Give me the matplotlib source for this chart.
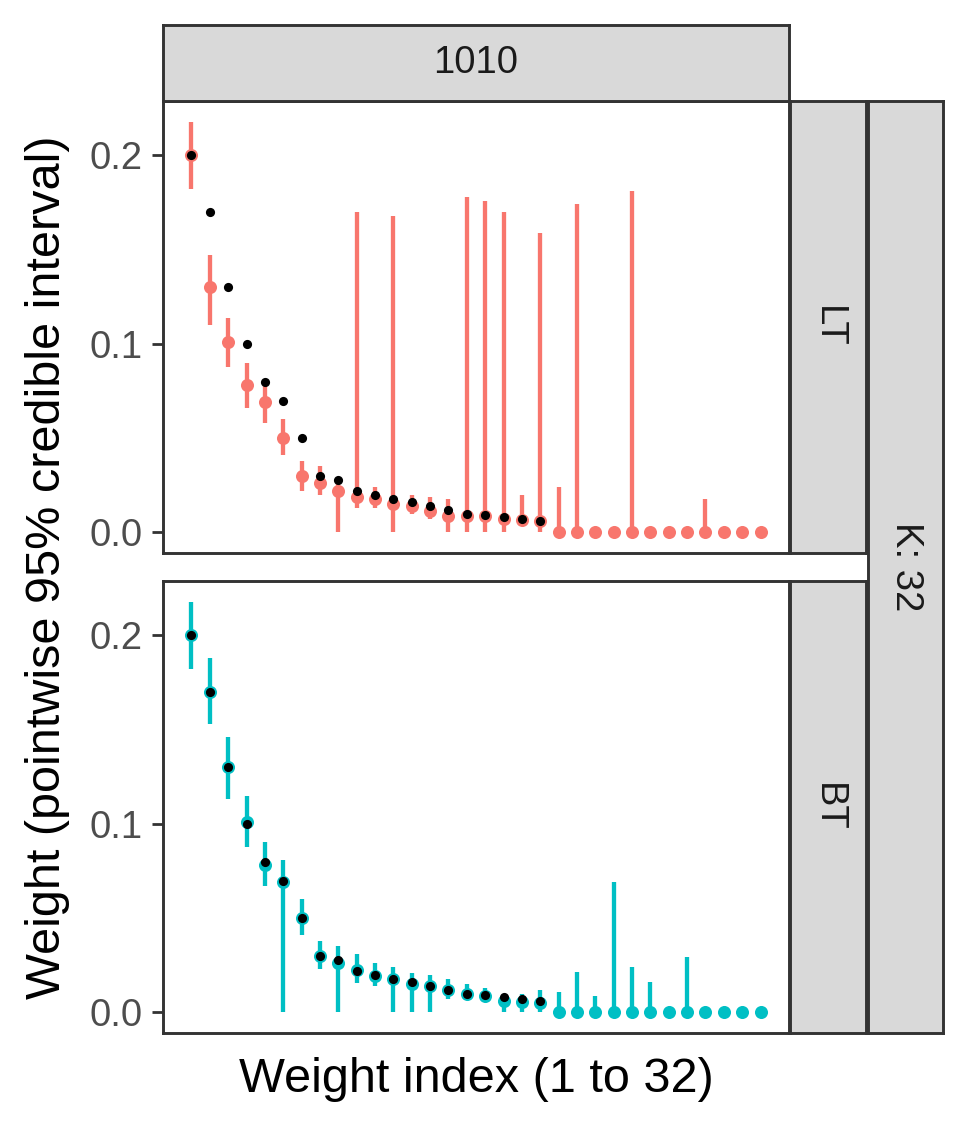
import numpy as np
import matplotlib
matplotlib.use("Agg")
import matplotlib.pyplot as plt

plt.rcParams['font.family'] = ['Liberation Sans', 'DejaVu Sans']

# data
idx = np.arange(1, 33)
true_w = [0.2, 0.17, 0.13, 0.1, 0.08, 0.07, 0.05, 0.03, 0.028, 0.022,
          0.02, 0.018, 0.016, 0.014, 0.012, 0.01, 0.009, 0.008, 0.007, 0.006]

lt_mid = [0.200, 0.130, 0.101, 0.078, 0.069, 0.050, 0.030, 0.026, 0.022, 0.019,
          0.018, 0.015, 0.014, 0.0115, 0.0088, 0.0087, 0.0085, 0.0072, 0.0068, 0.0062,
          0.0005, 0, 0, 0, 0, 0, 0, 0, 0, 0, 0, 0]
lt_lo = [0.182, 0.110, 0.088, 0.066, 0.058, 0.041, 0.022, 0.020, 0.0, 0.013,
         0.013, 0.0, 0.010, 0.007, 0.0, 0.0, 0.0, 0.0, 0.004, 0.0,
         0, 0, 0, 0, 0, 0, 0, 0, 0, 0, 0, 0]
lt_hi = [0.218, 0.147, 0.114, 0.090, 0.078, 0.060, 0.038, 0.035, 0.027, 0.170,
         0.024, 0.168, 0.020, 0.019, 0.018, 0.178, 0.176, 0.170, 0.020, 0.159,
         0.024, 0.174, 0, 0, 0.181, 0, 0, 0, 0.018, 0, 0, 0]

bt_mid = [0.200, 0.170, 0.130, 0.101, 0.078, 0.069, 0.050, 0.030, 0.0265, 0.0224,
          0.0194, 0.0176, 0.0153, 0.0138, 0.0118, 0.0097, 0.0088, 0.0062, 0.0053, 0.005,
          0, 0, 0, 0, 0, 0, 0, 0, 0, 0, 0, 0]
bt_lo = [0.182, 0.153, 0.113, 0.088, 0.067, 0.0, 0.041, 0.023, 0.0, 0.0155,
         0.0138, 0.0, 0.0, 0.0, 0.0074, 0.0064, 0.0053, 0.0, 0.0, 0.0,
         0, 0, 0, 0, 0, 0, 0, 0, 0, 0, 0, 0]
bt_hi = [0.218, 0.188, 0.146, 0.115, 0.0905, 0.081, 0.060, 0.038, 0.035, 0.031,
         0.026, 0.024, 0.021, 0.020, 0.0176, 0.015, 0.0132, 0.0097, 0.010, 0.012,
         0.0106, 0.0212, 0.0085, 0.069, 0.0243, 0.0164, 0, 0.0296, 0, 0, 0, 0]

panels = [("LT", "#F8766D", lt_mid, lt_lo, lt_hi),
          ("BT", "#00BFC4", bt_mid, bt_lo, bt_hi)]

W, H = 969, 1130
fig = plt.figure(figsize=(W / 100, H / 100), dpi=100)


def box(x0, y0, x1, y1):
    # pixel box (top-left origin) -> figure fraction rect
    return [x0 / W, 1 - y1 / H, (x1 - x0) / W, (y1 - y0) / H]


edge = "#333333"
strip_fill = "#D9D9D9"
bw = 2.1
small = 27.5
big = 35


def strip(rect, label, rot):
    s = fig.add_axes(rect)
    s.set_facecolor(strip_fill)
    s.set_xticks([])
    s.set_yticks([])
    for sp in s.spines.values():
        sp.set_color(edge)
        sp.set_linewidth(bw)
    s.text(0.5, 0.5, label, rotation=rot, ha="center", va="center",
           fontsize=small, color="#1A1A1A", transform=s.transAxes)
    return s


ymax = max(max(lt_hi), max(bt_hi))
pad = 0.05 * ymax
ylim = (-pad, ymax + pad)
xlim = (1 - 0.05 * 31, 32 + 0.05 * 31)

rows = [(101, 553), (581, 1033)]
for (name, col, mid, lo, hi), (y0, y1) in zip(panels, rows):
    ax = fig.add_axes(box(163, y0, 789, y1))
    ax.vlines(idx, lo, hi, color=col, linewidth=3.1, zorder=2)
    ax.plot(idx, mid, "o", color=col, markersize=9.4, markeredgewidth=0, zorder=3)
    ax.plot(idx[:len(true_w)], true_w, "o", color="black", markersize=6.6,
            markeredgewidth=0, zorder=4)
    ax.set_xlim(*xlim)
    ax.set_ylim(*ylim)
    ax.set_xticks([])
    ax.set_yticks([0.0, 0.1, 0.2])
    ax.set_yticklabels(["0.0", "0.1", "0.2"])
    ax.tick_params(axis="y", length=8, width=2.0, color=edge, pad=7,
                   labelsize=small, labelcolor="#4D4D4D")
    for sp in ax.spines.values():
        sp.set_color(edge)
        sp.set_linewidth(bw)
    strip(box(790, y0, 866, y1), name, 270)

strip(box(163, 25, 789, 101), "1010", 0)
strip(box(868, 101, 943, 1033), "K: 32", 270)

fig.text(476 / W, 1 - 1080 / H, "Weight index (1 to 32)", ha="center", va="center",
         fontsize=big, color="black")
fig.text(48 / W, 1 - 567 / H, "Weight (pointwise 95% credible interval)",
         rotation=90, ha="center", va="center", fontsize=big, color="black")

fig.savefig("out.png", dpi=100, facecolor="white")
